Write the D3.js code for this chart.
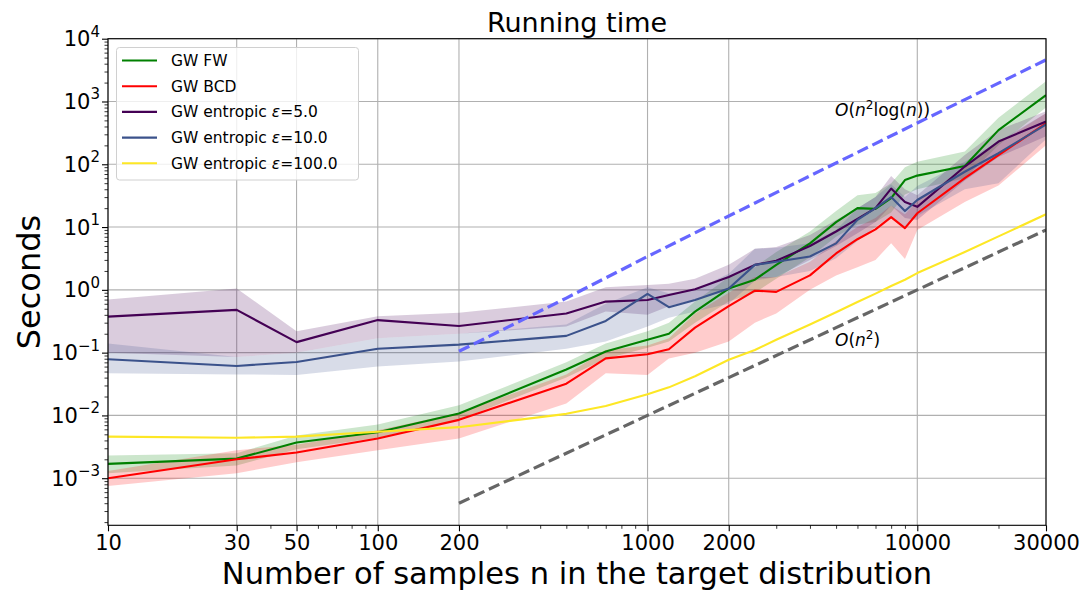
<!DOCTYPE html>
<html><head><meta charset="utf-8">
<script src="https://cdn.jsdelivr.net/npm/d3@7"></script>
<style>body{margin:0;background:#fff}svg{display:block;font-family:"DejaVu Sans",sans-serif}</style>
</head><body><svg id="c" width="1085" height="593"></svg>
<script>
const sizes = [10, 30, 50, 100, 200, 500, 700, 1000, 1200, 1500, 2000, 2500, 3000, 4000, 5000, 6000, 7000, 8000, 9000, 10000, 15000, 20000, 30000];

const fwMean  = [0.00169, 0.00205, 0.0037, 0.0054, 0.0107, 0.054, 0.104, 0.16, 0.20, 0.45, 1.05, 1.45, 2.5, 5.5, 12, 20, 19.5, 29, 56, 66, 94, 350, 1260];
const fwLow   = [0.0012, 0.0016, 0.0029, 0.0044, 0.0085, 0.04, 0.08, 0.12, 0.15, 0.3, 0.65, 0.9, 1.5, 3.3, 7, 11, 12, 17, 33, 40, 60, 200, 800];
const fwHigh  = [0.0023, 0.0025, 0.0048, 0.0072, 0.0145, 0.07, 0.14, 0.22, 0.3, 0.65, 1.6, 2.3, 4.0, 8.5, 18, 32, 35, 50, 90, 110, 160, 550, 2100];

const bcdMean = [0.001, 0.002, 0.00256, 0.0043, 0.0085, 0.032, 0.081, 0.094, 0.113, 0.25, 0.55, 0.97, 0.93, 1.7, 3.8, 6.4, 9.2, 14.4, 9.6, 16.6, 60, 140, 450];
const bcdLow  = [0.00075, 0.0012, 0.0018, 0.0028, 0.0043, 0.0155, 0.047, 0.044, 0.081, 0.1, 0.15, 0.3, 0.42, 1.0, 1.7, 2.3, 3.0, 5.5, 3.1, 9, 25, 46, 200];
const bcdHigh = [0.0013, 0.0028, 0.0034, 0.0058, 0.011, 0.045, 0.11, 0.13, 0.17, 0.42, 0.9, 1.6, 1.6, 2.8, 6, 10, 14, 22, 16, 26, 90, 220, 650];

const e5Mean  = [0.374, 0.48, 0.147, 0.33, 0.266, 0.42, 0.65, 0.69, 0.83, 1.02, 1.6, 2.5, 2.9, 5.0, 8.5, 13.5, 20, 41, 25, 21, 92, 230, 480];
const e5Low   = [0.1, 0.085, 0.1, 0.17, 0.2, 0.26, 0.45, 0.4, 0.55, 0.7, 1.0, 1.5, 1.6, 3.0, 5, 8, 12, 22, 14, 13, 55, 130, 280];
const e5High  = [0.7, 1.05, 0.22, 0.38, 0.43, 0.65, 1.1, 1.2, 1.25, 1.5, 2.5, 4.5, 4.8, 7.5, 13, 20, 30, 65, 40, 32, 140, 350, 700];

const e10Mean = [0.0785, 0.0614, 0.071, 0.115, 0.134, 0.185, 0.32, 0.86, 0.53, 0.69, 1.05, 2.5, 2.8, 3.4, 5.5, 13, 20, 30, 18, 27, 76, 150, 430];
const e10Low  = [0.047, 0.045, 0.044, 0.06, 0.072, 0.115, 0.15, 0.26, 0.36, 0.45, 0.6, 1.4, 1.6, 2.0, 3.2, 6, 10, 15, 10, 15, 40, 50, 250];
const e10High = [0.14, 0.085, 0.1, 0.17, 0.2, 0.28, 0.6, 1.1, 0.88, 1.0, 1.8, 4.5, 4.7, 5.5, 9, 20, 30, 48, 30, 45, 110, 230, 650];

const e100Mean = [0.0046, 0.0044, 0.0046, 0.0055, 0.0065, 0.0106, 0.0141, 0.0218, 0.028, 0.042, 0.077, 0.11, 0.16, 0.28, 0.44, 0.64, 0.87, 1.15, 1.45, 1.85, 4.0, 7.1, 16];

const refSizes = [200, 500, 1000, 2000, 5000, 10000, 20000, 30000];
const refN2logN = [0.105, 0.74, 3.4, 15, 105, 455, 1960, 4600];
const refN2 = [0.0004, 0.0025, 0.01, 0.04, 0.25, 1.0, 4.0, 9.0];

const xTicks = [10, 30, 50, 100, 200, 1000, 2000, 10000, 30000];
const yTicks = [-3, -2, -1, 0, 1, 2, 3, 4];

const seriesNames = ["GW FW", "GW BCD", "GW entropic ε=5.0", "GW entropic ε=10.0", "GW entropic ε=100.0"];
const seriesColors = ["#008000", "#ff0000", "#440154", "#3b528b", "#fde725"];

const svg = d3.select("#c");
const L = 108, R = 1046, T = 38.7, B = 525.3;
const x = d3.scaleLog().domain([10, 30000]).range([L, R]);
const y = d3.scaleLog().domain([Math.pow(10, -3.75), 1e4]).range([B, T]);

// grid
const g = svg.append("g");
g.selectAll(".vg").data(xTicks).join("line")
  .attr("x1", d => x(d)).attr("x2", d => x(d)).attr("y1", T).attr("y2", B)
  .attr("stroke", "#b0b0b0").attr("stroke-width", 1.1);
g.selectAll(".hg").data(yTicks).join("line")
  .attr("x1", L).attr("x2", R).attr("y1", d => y(Math.pow(10, d))).attr("y2", d => y(Math.pow(10, d)))
  .attr("stroke", "#b0b0b0").attr("stroke-width", 1.1);

svg.append("defs").append("clipPath").attr("id", "pc").append("rect")
  .attr("x", L).attr("y", T).attr("width", R - L).attr("height", B - T);
const plot = svg.append("g").attr("clip-path", "url(#pc)");

const series = [
  {mean: fwMean, low: fwLow, high: fwHigh},
  {mean: bcdMean, low: bcdLow, high: bcdHigh},
  {mean: e5Mean, low: e5Low, high: e5High},
  {mean: e10Mean, low: e10Low, high: e10High},
  {mean: e100Mean, low: null, high: null}
];

const area = d3.area().x(d => x(d.n)).y0(d => y(d.lo)).y1(d => y(d.hi));
const line = d3.line().x(d => x(d.n)).y(d => y(d.v));

series.forEach((s, i) => {
  if (s.low) {
    const data = sizes.map((n, k) => ({n, lo: s.low[k], hi: s.high[k]}));
    plot.append("path").attr("d", area(data)).attr("fill", seriesColors[i]).attr("fill-opacity", 0.2);
  }
});
series.forEach((s, i) => {
  const data = sizes.map((n, k) => ({n, v: s.mean[k]}));
  plot.append("path").attr("d", line(data)).attr("fill", "none")
    .attr("stroke", seriesColors[i]).attr("stroke-width", 2.1).attr("stroke-linejoin", "round");
});

plot.append("path").attr("d", line(refSizes.map((n, k) => ({n, v: refN2logN[k]}))))
  .attr("fill", "none").attr("stroke", "#6666ff").attr("stroke-width", 3.2).attr("stroke-dasharray", "11.5,5");
plot.append("path").attr("d", line(refSizes.map((n, k) => ({n, v: refN2[k]}))))
  .attr("fill", "none").attr("stroke", "#666666").attr("stroke-width", 3.2).attr("stroke-dasharray", "11.5,5");

// annotations
function oText(xp, yp, withLog) {
  const t = svg.append("text").attr("x", xp).attr("y", yp).attr("font-size", 17).attr("fill", "#000");
  t.append("tspan").attr("font-style", "italic").text("O");
  t.append("tspan").text("(");
  t.append("tspan").attr("font-style", "italic").text("n");
  t.append("tspan").attr("font-size", 12).attr("dy", -7).text("2");
  if (withLog) {
    t.append("tspan").attr("dy", 7).text("log(");
    t.append("tspan").attr("font-style", "italic").text("n");
    t.append("tspan").text("))");
  } else {
    t.append("tspan").attr("dy", 7).text(")");
  }
}
oText(835, 116, true);
oText(835, 346, false);

// spines
svg.append("rect").attr("x", L).attr("y", T).attr("width", R - L).attr("height", B - T)
  .attr("fill", "none").attr("stroke", "#000").attr("stroke-width", 1.1);

// x axis
const xAx = svg.append("g").attr("transform", `translate(0,${B})`)
  .call(d3.axisBottom(x).tickValues(xTicks).tickFormat(d3.format("d")).tickSize(6).tickPadding(4));
xAx.select(".domain").remove();
xAx.selectAll("text").attr("font-size", 21).attr("font-family", "DejaVu Sans").attr("fill", "#000");
xAx.selectAll("line").attr("stroke-width", 1.1);
const xMinor = [];
for (let e = 1; e <= 4; e++) for (let m = 2; m <= 9; m++) { const v = m * Math.pow(10, e); if (v <= 30000 && !xTicks.includes(v)) xMinor.push(v); }
const xmAx = svg.append("g").attr("transform", `translate(0,${B})`)
  .call(d3.axisBottom(x).tickValues(xMinor).tickFormat("").tickSize(3.5));
xmAx.select(".domain").remove();
xmAx.selectAll("line").attr("stroke-width", 0.8);

// y axis
const yAx = svg.append("g").attr("transform", `translate(${L},0)`)
  .call(d3.axisLeft(y).tickValues(yTicks.map(d => Math.pow(10, d))).tickFormat("").tickSize(6));
yAx.select(".domain").remove();
yAx.selectAll("line").attr("stroke-width", 1.1);
const yMinor = [];
for (let e = -4; e <= 3; e++) for (let m = 2; m <= 9; m++) { const v = m * Math.pow(10, e); if (v >= Math.pow(10, -3.75) && v <= 1e4) yMinor.push(v); }
const ymAx = svg.append("g").attr("transform", `translate(${L},0)`)
  .call(d3.axisLeft(y).tickValues(yMinor).tickFormat("").tickSize(3.5));
ymAx.select(".domain").remove();
ymAx.selectAll("line").attr("stroke-width", 0.8);

yTicks.forEach(p => {
  const t = svg.append("text").attr("x", 100).attr("y", y(Math.pow(10, p)) + 7.5)
    .attr("text-anchor", "end").attr("font-size", 21).attr("fill", "#000");
  t.append("tspan").text("10");
  t.append("tspan").attr("font-size", 15).attr("dy", -9.5).text(p < 0 ? "\u2212" + (-p) : String(p));
});

// labels
svg.append("text").attr("x", (L + R) / 2).attr("y", 32).attr("text-anchor", "middle")
  .attr("font-size", 27).text("Running time");
svg.append("text").attr("x", 577).attr("y", 584).attr("text-anchor", "middle")
  .attr("font-size", 30.5).text("Number of samples n in the target distribution");
svg.append("text").attr("transform", `translate(40,${282}) rotate(-90)`).attr("text-anchor", "middle")
  .attr("font-size", 32).text("Seconds");

// legend
const lg = svg.append("g");
lg.append("rect").attr("x", 116.5).attr("y", 47.5).attr("width", 242).attr("height", 132.5).attr("rx", 3)
  .attr("fill", "#fff").attr("fill-opacity", 0.8).attr("stroke", "#d0d0d0");
seriesNames.forEach((name, i) => {
  const yy = 60.5 + i * 25.7;
  lg.append("line").attr("x1", 122).attr("x2", 157).attr("y1", yy).attr("y2", yy)
    .attr("stroke", seriesColors[i]).attr("stroke-width", 2.1);
  const t = lg.append("text").attr("x", 171).attr("y", yy + 5.5).attr("font-size", 15.5);
  if (name.includes("ε")) {
    const parts = name.split("ε");
    t.append("tspan").text(parts[0]);
    t.append("tspan").attr("font-style", "italic").text("ε");
    t.append("tspan").text(parts[1]);
  } else t.text(name);
});
</script></body></html>
